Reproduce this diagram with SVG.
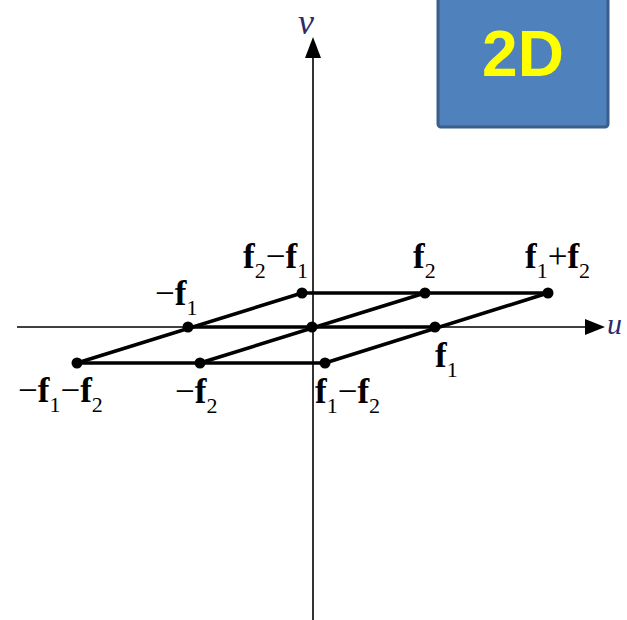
<svg xmlns="http://www.w3.org/2000/svg" width="627" height="620" viewBox="0 0 627 620">
<style>
.axis{stroke:#000;stroke-width:1.6;fill:none}
.lat{stroke:#000;stroke-width:3.6;fill:none;stroke-linecap:round}
.dot{fill:#000}
.lbl{font-family:"Liberation Serif","Times New Roman",serif;font-size:35px;font-weight:bold;fill:#000}
.sub{font-size:22px;font-weight:normal}
.op{font-weight:normal}
.ax{font-family:"Liberation Serif","Times New Roman",serif;font-style:italic;fill:#2b2b6b}
</style>
<rect width="627" height="620" fill="#fff"/>
<g id="box">
<rect x="438" y="-6" width="170" height="133" rx="3" fill="#4F81BD" stroke="#3A5F8B" stroke-width="3"/>
<text x="523" y="76" text-anchor="middle" font-family="'Liberation Sans',Arial,sans-serif" font-weight="bold" font-size="64" fill="#FFFF00">2D</text>
</g>
<g id="axes">
<line class="axis" x1="313" y1="620" x2="313" y2="55"/>
<polygon points="313,37 305,58 321,58" fill="#000"/>
<line class="axis" x1="17" y1="327" x2="588" y2="327"/>
<polygon points="605,327 585,319 585,335" fill="#000"/>
<text class="ax" x="298" y="34" font-size="36">v</text>
<text class="ax" x="607" y="334" font-size="30">u</text>
</g>
<g id="connectors">
<line class="lat" x1="302" y1="293" x2="548" y2="293"/>
<line class="lat" x1="188" y1="327" x2="435" y2="327"/>
<line class="lat" x1="77" y1="363" x2="325" y2="363"/>
<line class="lat" x1="77" y1="363" x2="302" y2="293"/>
<line class="lat" x1="200" y1="363" x2="425" y2="293"/>
<line class="lat" x1="325" y1="363" x2="548" y2="293"/>
</g>
<g id="n-f2mf1"><circle class="dot" cx="302" cy="293" r="5.5"/><text class="lbl" x="243" y="268">f<tspan class="sub" dy="10">2</tspan><tspan class="op" dy="-10">−</tspan>f<tspan class="sub" dy="10">1</tspan></text></g>
<g id="n-f2"><circle class="dot" cx="425" cy="293" r="5.5"/><text class="lbl" x="413" y="268">f<tspan class="sub" dy="10">2</tspan></text></g>
<g id="n-f1pf2"><circle class="dot" cx="548" cy="293" r="5.5"/><text class="lbl" x="525" y="268">f<tspan class="sub" dy="10">1</tspan><tspan class="op" dy="-10">+</tspan>f<tspan class="sub" dy="10">2</tspan></text></g>
<g id="n-mf1"><circle class="dot" cx="188" cy="327" r="5.5"/><text class="lbl" x="155" y="305"><tspan class="op">−</tspan>f<tspan class="sub" dy="10">1</tspan></text></g>
<g id="n-origin"><circle class="dot" cx="312" cy="327" r="5.5"/></g>
<g id="n-f1"><circle class="dot" cx="435" cy="327" r="5.5"/><text class="lbl" x="435" y="367">f<tspan class="sub" dy="10">1</tspan></text></g>
<g id="n-mf1mf2"><circle class="dot" cx="77" cy="363" r="5.5"/><text class="lbl" x="18" y="402"><tspan class="op">−</tspan>f<tspan class="sub" dy="10">1</tspan><tspan class="op" dy="-10">−</tspan>f<tspan class="sub" dy="10">2</tspan></text></g>
<g id="n-mf2"><circle class="dot" cx="200" cy="363" r="5.5"/><text class="lbl" x="175" y="403"><tspan class="op">−</tspan>f<tspan class="sub" dy="10">2</tspan></text></g>
<g id="n-f1mf2"><circle class="dot" cx="325" cy="363" r="5.5"/><text class="lbl" x="315" y="403">f<tspan class="sub" dy="10">1</tspan><tspan class="op" dy="-10">−</tspan>f<tspan class="sub" dy="10">2</tspan></text></g>
</svg>
